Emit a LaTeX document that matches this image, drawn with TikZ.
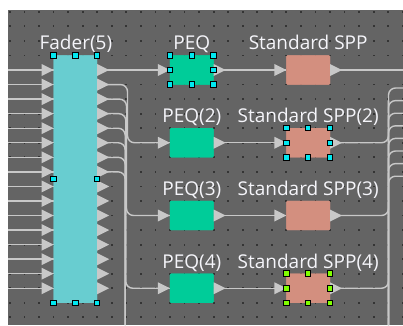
\documentclass[tikz,border=0pt]{standalone}
\usepackage{fontspec}
\setmainfont{Open Sans}
\usetikzlibrary{calc}
\definecolor{bgc}{RGB}{100,100,100}
\definecolor{dotc}{RGB}{52,52,52}
\definecolor{wirec}{RGB}{200,200,200}
\definecolor{fadercol}{RGB}{104,205,208}
\definecolor{peqcol}{RGB}{0,204,153}
\definecolor{sppcol}{RGB}{211,143,127}
\definecolor{hcyan}{RGB}{0,232,240}
\definecolor{hgreen}{RGB}{128,255,0}
\definecolor{lblc}{RGB}{245,245,250}
\begin{document}
\begin{tikzpicture}[x=1pt,y=-1pt,
  block/.style={minimum width=43.65pt,minimum height=29.1pt,inner sep=0pt,outer sep=0pt,rounded corners=1pt},
  wire/.style={draw=wirec,line width=1.4pt,rounded corners=7pt},
  lbl/.style={text=lblc,font=\fontsize{19}{21}\selectfont,inner sep=0pt,anchor=base},
  handle/.style={draw=black,line width=1pt,minimum size=5.5pt,inner sep=0pt,fill=#1},
  handle/.default=hcyan]
\useasboundingbox (0,0) rectangle (403,325);
\fill[bgc] (8,10) rectangle (403,325);
% grid dots
\foreach \i in {0,...,27} \foreach \j in {0,...,21}
  \fill[dotc] ({9.9+14.55*\i-0.9},{11.8+14.55*\j-0.9}) rectangle ++(1.8,1.8);
% edges
\coordinate (edgeL) at (8,0);
\coordinate (edgeR) at (403,0);
\coordinate (edgeB) at (0,325);
\coordinate (busA) at (127.5,0);
\coordinate (busB) at (126.5,0);
\coordinate (busC) at (125.8,0);
\coordinate (busD) at (125.2,0);
\coordinate (busR) at (388.5,0);
% blocks
\node[block,fill=fadercol,minimum height=247.35pt] (fader) at (75.375,179.125) {};
\foreach \k in {0,...,3} {
  \node[block,fill=peqcol] (peq\k) at (191.775,{70+72.75*\k}) {};
  \node[block,fill=sppcol] (spp\k) at (308.175,{70+72.75*\k}) {};
}
% labels
\node[lbl] at ($(fader.north)+(0.5,-5.5)$) {Fader(5)};
\node[lbl] at ($(peq0.north)+(0,-5.5)$) {PEQ};
\node[lbl] at ($(peq1.north)+(0,-5.5)$) {PEQ(2)};
\node[lbl] at ($(peq2.north)+(0,-5.5)$) {PEQ(3)};
\node[lbl] at ($(peq3.north)+(0,-5.5)$) {PEQ(4)};
\node[lbl] at ($(spp0.north)+(0,-5.5)$) {Standard SPP};
\node[lbl] at ($(spp1.north)+(0,-5.5)$) {Standard SPP(2)};
\node[lbl] at ($(spp2.north)+(0,-5.5)$) {Standard SPP(3)};
\node[lbl] at ($(spp3.north)+(0,-5.5)$) {Standard SPP(4)};
% fader port coordinates
\foreach \r in {0,...,15} {
  \coordinate (fi\r) at ($(fader.north west)+(0,{14.55*(\r+1)})$);
  \coordinate (fo\r) at ($(fader.north east)+(0,{14.55*(\r+1)})$);
}
% right-side coordinates
\foreach \k in {0,...,7} \coordinate (rt\k) at (403,{88+12.6*\k});
% wires
\begin{scope}[on background layer/.style={}]
\foreach \r in {0,...,15} \draw[wire] (fi\r -| edgeL) -- (fi\r);
\draw[wire] (fo0) -- (peq0.west);
\draw[wire] (fo1) -| (busA |- peq1.west) -- (peq1.west);
\draw[wire] (fo2) -| (busB |- peq2.west) -- (peq2.west);
\draw[wire] (fo3) -| (busC |- peq3.west) -- (peq3.west);
\foreach \r in {4,...,7} \draw[wire] (fo\r) -| (busD |- edgeB);
\foreach \k in {0,...,3} \draw[wire] (peq\k.east) -- (spp\k.west);
\draw[wire] (spp0.east) -- (spp0.east -| edgeR);
\foreach \k in {0,...,7} \draw[wire] (rt\k) -| (busR |- edgeB);
\foreach \k in {1,...,3} \draw[wire] (spp\k.east) -| (busR |- rt1);
\end{scope}
% redraw blocks over wires
\fill[fadercol,rounded corners=1pt] (fader.north west) rectangle (fader.south east);
\foreach \k in {0,...,3} {
  \fill[peqcol,rounded corners=1pt] (peq\k.north west) rectangle (peq\k.south east);
  \fill[sppcol,rounded corners=1pt] (spp\k.north west) rectangle (spp\k.south east);
}
% port triangles
\foreach \r in {0,...,15} {
  \fill[wirec] (fi\r) -- ++(-12,-6) -- ++(0,12) -- cycle;
  \fill[wirec] ($(fo\r)+(0,-6)$) -- ++(12,6) -- ++(-12,6) -- cycle;
}
\foreach \k in {0,...,3} {
  \fill[wirec] (peq\k.west) -- ++(-12,-6) -- ++(0,12) -- cycle;
  \fill[wirec] ($(peq\k.east)+(0,-6)$) -- ++(12,6) -- ++(-12,6) -- cycle;
  \fill[wirec] (spp\k.west) -- ++(-12,-6) -- ++(0,12) -- cycle;
  \fill[wirec] ($(spp\k.east)+(0,-6)$) -- ++(12,6) -- ++(-12,6) -- cycle;
}
% selection handles
\foreach \a in {north west,north,north east,west,east,south west,south,south east} {
  \node[handle] at (fader.\a) {};
  \node[handle] at (peq0.\a) {};
  \node[handle] at (spp1.\a) {};
  \node[handle=hgreen] at (spp3.\a) {};
}
\end{tikzpicture}
\end{document}
